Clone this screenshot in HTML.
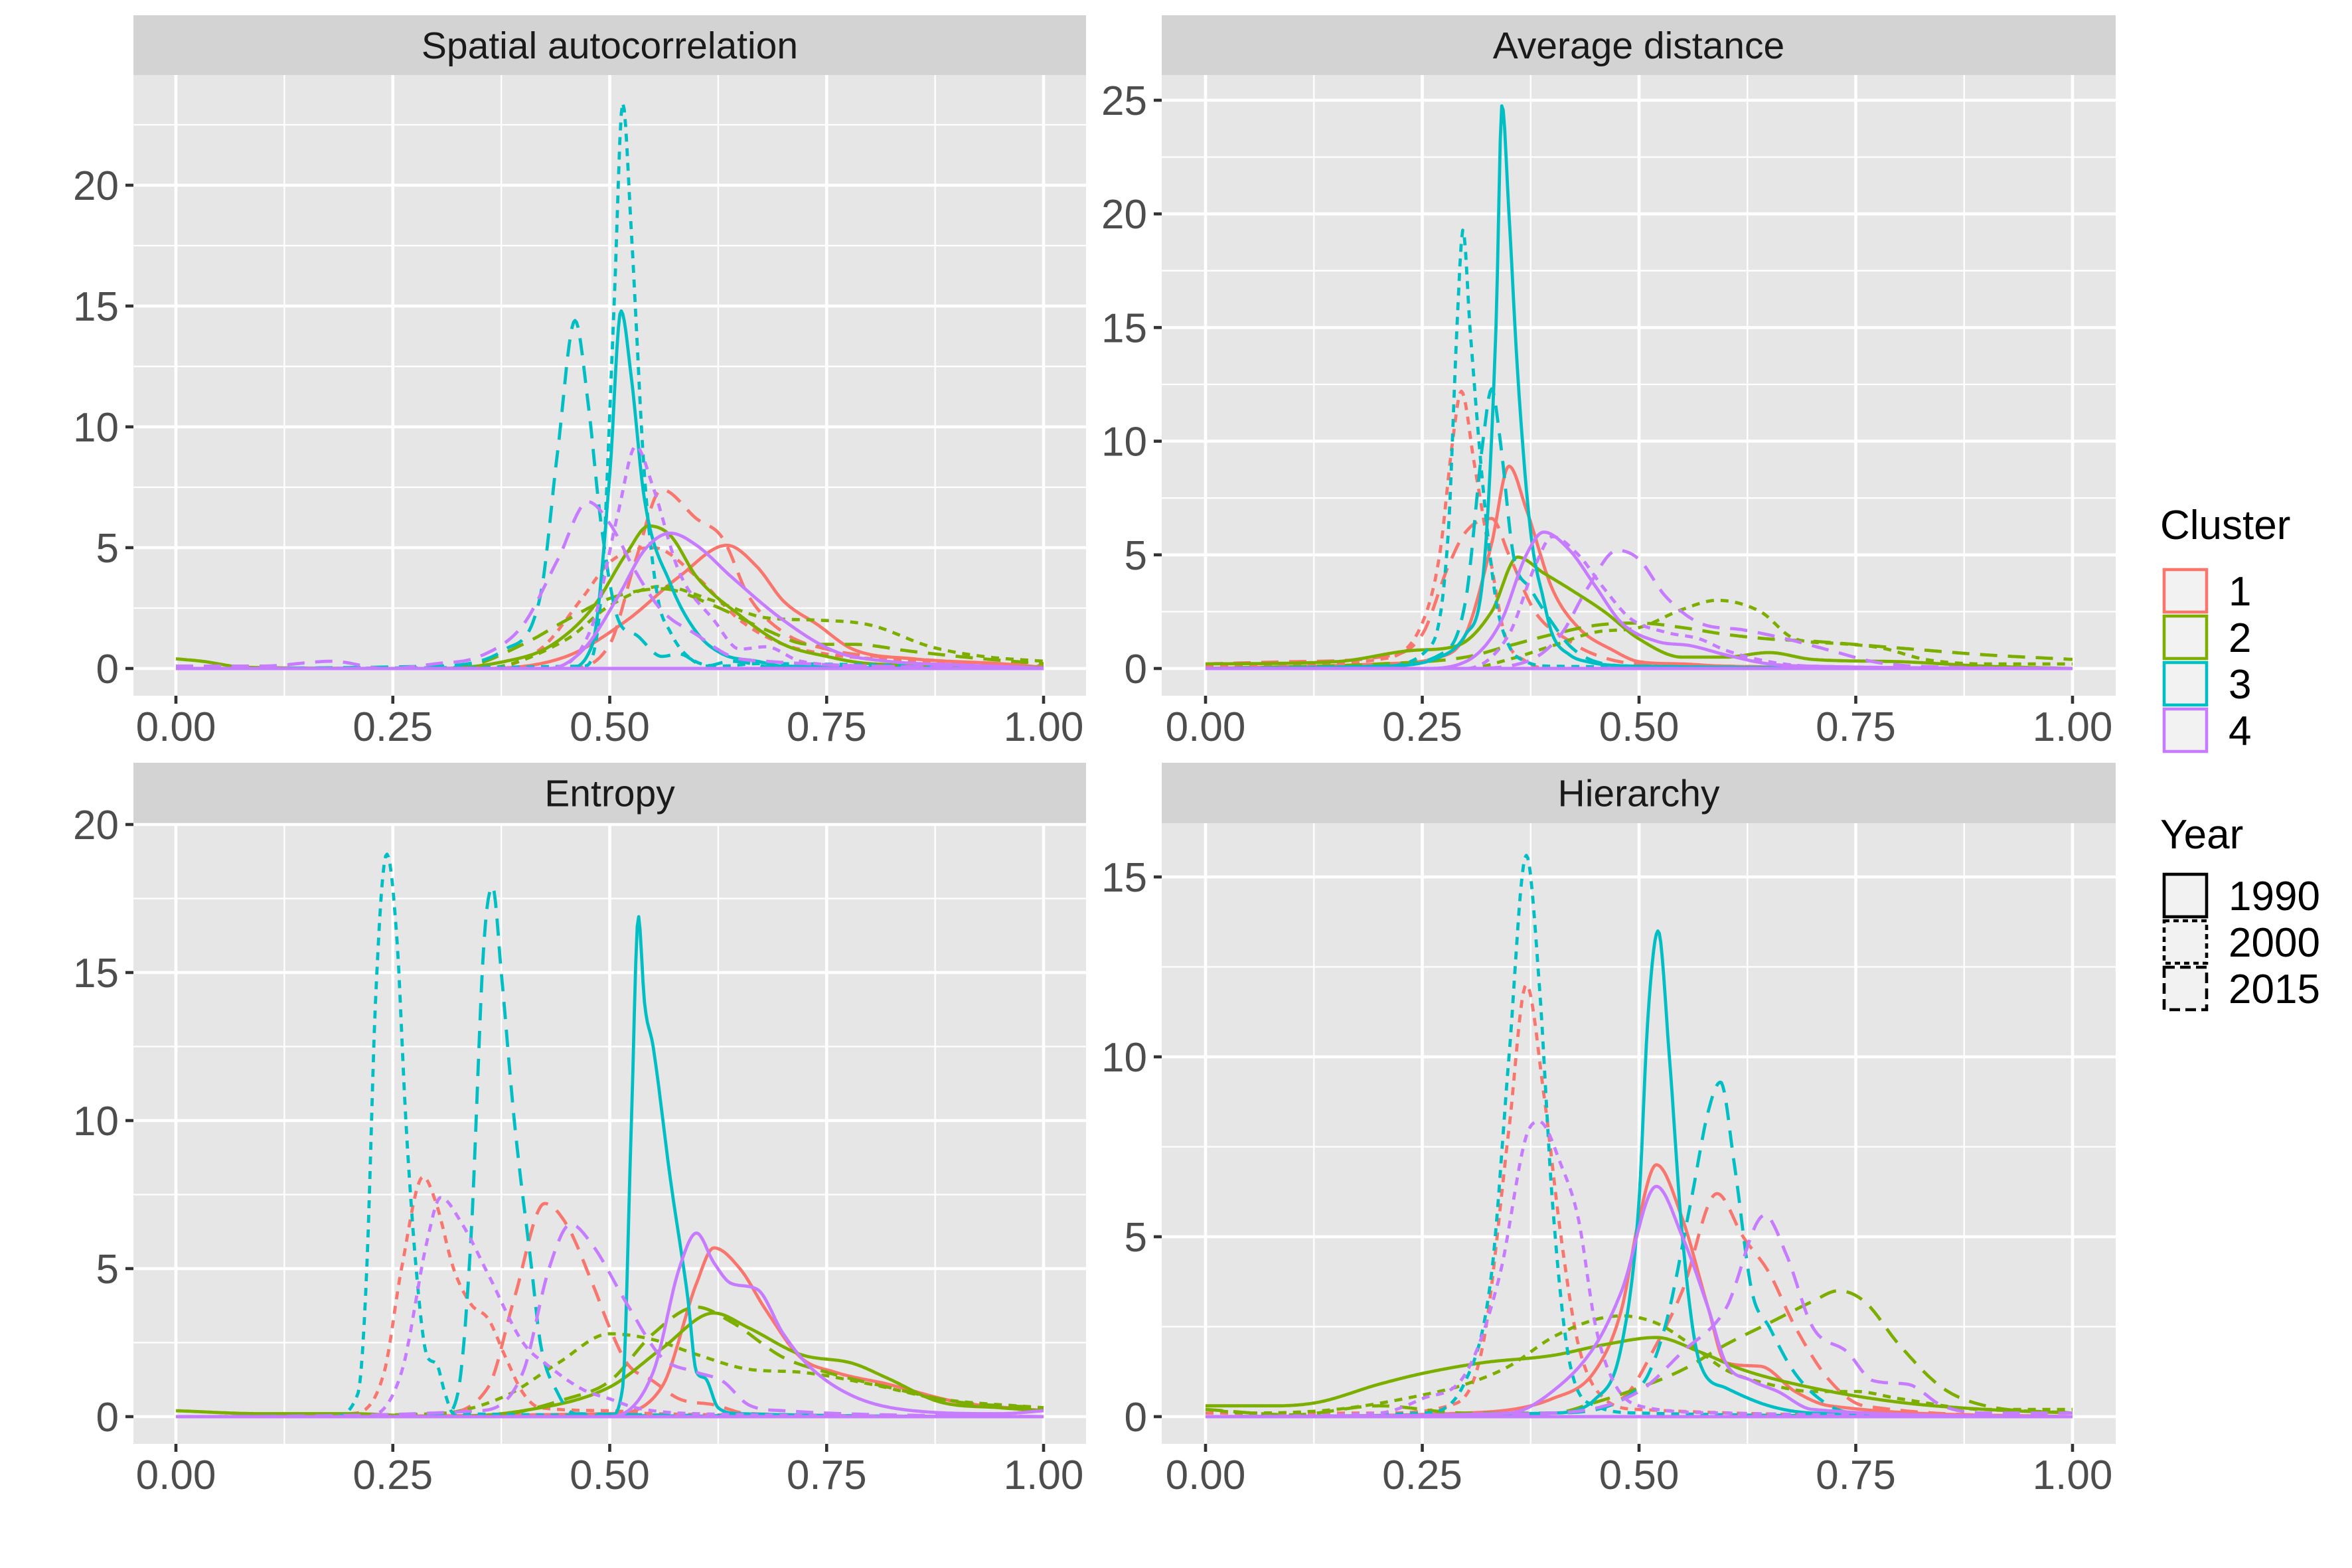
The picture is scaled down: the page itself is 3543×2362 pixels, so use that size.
<!DOCTYPE html>
<html><head><meta charset="utf-8"><style>
html,body{margin:0;padding:0;background:#fff;}
svg{display:block;font-family:"Liberation Sans",sans-serif;}
</style></head><body>
<svg id="chart" width="3543" height="2362" viewBox="0 0 3543 2362" xmlns="http://www.w3.org/2000/svg">
<g id="panels"></g>
<g id="legend">
  <text x="3254" y="812" font-size="62" fill="#000">Cluster</text>
  <text x="3254" y="1278" font-size="62" fill="#000">Year</text>
</g>
</svg>
<script>
// ---------- data (x value, density) ----------
const panelTitles = ["Spatial autocorrelation","Average distance","Entropy","Hierarchy"];
const clusters = ["1","2","3","4"];
const years = ["1990","2000","2015"];
const xTicks = [0,0.25,0.5,0.75,1];
const xTickLabels = ["0.00","0.25","0.50","0.75","1.00"];
const yTicksS = [0,5,10,15,20];
const yTicksA = [0,5,10,15,20,25];
const yTicksE = [0,5,10,15,20];
const yTicksH = [0,5,10,15];

const S_c1_1990=[[0,0],[0.35,0],[0.45,0.5],[0.52,2.0],[0.58,3.8],[0.635,5.1],[0.67,4.2],[0.7,2.8],[0.74,1.8],[0.78,0.8],[0.85,0.4],[0.95,0.2],[1,0.05]];
const S_c1_2000=[[0,0],[0.35,0],[0.42,0.8],[0.47,3.0],[0.5,4.4],[0.55,5.0],[0.6,3.8],[0.65,2.0],[0.7,1.0],[0.75,0.6],[0.85,0.3],[1,0.05]];
const S_c1_2015=[[0,0],[0.45,0],[0.5,1.0],[0.53,4.5],[0.56,7.4],[0.6,6.2],[0.63,5.4],[0.66,3.0],[0.7,1.5],[0.75,0.8],[0.85,0.4],[1,0.1]];
const S_c2_1990=[[0,0.4],[0.03,0.3],[0.08,0.05],[0.3,0],[0.38,0.3],[0.43,0.9],[0.48,2.5],[0.52,4.8],[0.545,5.9],[0.57,5.5],[0.6,3.8],[0.65,2.2],[0.7,1.0],[0.75,0.5],[0.8,0.2],[1,0.05]];
const S_c2_2000=[[0,0],[0.35,0],[0.45,1.2],[0.5,2.6],[0.56,3.4],[0.62,2.8],[0.68,2.1],[0.74,2.0],[0.8,1.8],[0.87,0.9],[0.93,0.5],[1,0.3]];
const S_c2_2015=[[0,0],[0.33,0.1],[0.4,1.0],[0.45,2.0],[0.5,2.9],[0.56,3.3],[0.62,2.6],[0.68,1.6],[0.73,1.0],[0.78,1.0],[0.85,0.7],[0.93,0.4],[1,0.2]];
const S_c3_1990=[[0,0],[0.45,0],[0.48,1],[0.5,8],[0.513,14.8],[0.525,12],[0.54,7],[0.57,3.5],[0.6,1.5],[0.63,0.6],[0.67,0.3],[0.7,0.1],[1,0]];
const S_c3_2000=[[0,0],[0.47,0.1],[0.49,3],[0.505,15],[0.515,23.4],[0.525,18],[0.54,8],[0.555,3],[0.57,1.5],[0.59,0.5],[0.63,0.1],[0.67,0.2],[1,0]];
const S_c3_2015=[[0,0],[0.3,0.1],[0.38,0.8],[0.42,3],[0.44,9],[0.46,14.4],[0.475,11],[0.49,6],[0.51,2],[0.53,1.4],[0.56,0.5],[0.58,0.6],[0.61,0.1],[0.64,0.3],[0.7,0],[1,0]];
const S_c4_1990=[[0,0],[0.43,0],[0.47,0.8],[0.51,3.0],[0.54,4.9],[0.57,5.6],[0.6,5.1],[0.64,3.8],[0.7,2.0],[0.76,0.7],[0.82,0.3],[0.9,0.15],[1,0.02]];
const S_c4_2000=[[0,0],[0.43,0],[0.48,1.8],[0.51,6.5],[0.53,9.2],[0.55,7.5],[0.58,4],[0.62,2],[0.65,0.8],[0.68,0.9],[0.72,0.3],[0.8,0.1],[1,0]];
const S_c4_2015=[[0,0.1],[0.1,0.1],[0.18,0.3],[0.24,0],[0.3,0.2],[0.35,0.5],[0.4,1.8],[0.44,4.5],[0.475,6.9],[0.5,6.0],[0.53,4.0],[0.56,2.4],[0.6,1.4],[0.64,0.5],[0.68,0.3],[1,0]];

const A_c1_1990=[[0,0],[0.2,0.2],[0.27,0.5],[0.3,1.5],[0.33,5.5],[0.35,8.9],[0.37,7],[0.4,3.5],[0.43,1.8],[0.47,0.8],[0.5,0.3],[0.55,0.2],[0.6,0.1],[1,0]];
const A_c1_2000=[[0,0.1],[0.1,0.2],[0.2,0.4],[0.25,2],[0.27,5],[0.285,10],[0.295,12.2],[0.31,9],[0.33,4.5],[0.345,1.5],[0.37,0.3],[0.4,0],[1,0]];
const A_c1_2015=[[0,0.2],[0.1,0.3],[0.2,0.5],[0.25,1.5],[0.28,4.5],[0.3,6.0],[0.33,6.6],[0.35,5],[0.38,2.5],[0.42,1.2],[0.45,0.6],[0.5,0.2],[1,0]];
const A_c2_1990=[[0,0.2],[0.15,0.3],[0.24,0.8],[0.29,1],[0.33,2.5],[0.36,4.9],[0.39,4.2],[0.42,3.5],[0.46,2.5],[0.5,1.3],[0.55,0.5],[0.6,0.5],[0.65,0.7],[0.7,0.4],[0.8,0.3],[0.9,0.1],[1,0]];
const A_c2_2000=[[0,0],[0.3,0],[0.35,0.4],[0.4,1],[0.45,1.6],[0.5,1.8],[0.55,2.6],[0.59,3.0],[0.64,2.5],[0.68,1.3],[0.73,1.1],[0.78,0.9],[0.83,0.4],[0.9,0.2],[1,0.2]];
const A_c2_2015=[[0,0],[0.2,0.2],[0.3,0.5],[0.35,1],[0.4,1.5],[0.45,1.9],[0.5,2.0],[0.55,1.8],[0.6,1.5],[0.65,1.3],[0.7,1.2],[0.8,0.9],[0.9,0.6],[1,0.4]];
const A_c3_1990=[[0,0],[0.2,0.1],[0.27,0.5],[0.3,1.5],[0.32,4],[0.335,15],[0.342,24.8],[0.35,20],[0.36,13],[0.375,6],[0.39,3],[0.4,1.5],[0.42,0.6],[0.44,0.3],[0.5,0.1],[1,0]];
const A_c3_2000=[[0,0],[0.2,0.1],[0.26,1.0],[0.28,6],[0.29,15],[0.297,19.3],[0.305,15],[0.32,8],[0.335,3],[0.35,1],[0.37,0.3],[0.4,0.1],[1,0]];
const A_c3_2015=[[0,0],[0.2,0.1],[0.27,0.6],[0.3,3],[0.32,10],[0.33,12.3],[0.34,10],[0.355,5],[0.375,3.5],[0.4,2],[0.42,1],[0.45,0.3],[0.5,0.1],[1,0]];
const A_c4_1990=[[0,0],[0.25,0],[0.3,0.3],[0.34,2],[0.37,5],[0.39,6.0],[0.42,5.2],[0.45,3.6],[0.48,2],[0.52,1.2],[0.56,1.0],[0.6,0.6],[0.65,0.2],[0.7,0.1],[1,0]];
const A_c4_2000=[[0,0],[0.3,0],[0.35,1.5],[0.38,4.5],[0.4,5.8],[0.43,5.0],[0.46,3.5],[0.49,2.2],[0.53,1.6],[0.57,1.3],[0.6,0.8],[0.65,0.3],[0.7,0.1],[1,0]];
const A_c4_2015=[[0,0],[0.3,0],[0.37,0.3],[0.41,1.5],[0.44,3.5],[0.475,5.2],[0.5,4.8],[0.53,3.2],[0.57,2],[0.62,1.7],[0.67,1.3],[0.72,0.8],[0.77,0.3],[0.82,0.1],[1,0]];

const E_c1_1990=[[0,0],[0.5,0.1],[0.56,1.0],[0.6,4.5],[0.62,5.7],[0.65,5.0],[0.68,3.6],[0.72,2.0],[0.76,1.5],[0.82,1.1],[0.9,0.5],[1,0.2]];
const E_c1_2000=[[0,0],[0.2,0.1],[0.24,1.5],[0.26,5],[0.285,8.1],[0.3,7.2],[0.32,5],[0.34,3.8],[0.36,3.3],[0.38,2],[0.4,0.8],[0.42,0.3],[0.5,0.2],[0.55,0.1],[1,0]];
const E_c1_2015=[[0,0],[0.3,0.1],[0.36,1],[0.39,4],[0.425,7.2],[0.45,6.5],[0.48,4.5],[0.5,3],[0.52,1.8],[0.55,1.2],[0.58,0.6],[0.62,0.4],[0.66,0.1],[1,0]];
const E_c2_1990=[[0,0.2],[0.1,0.1],[0.2,0.1],[0.3,0],[0.4,0.2],[0.5,1.0],[0.56,2.3],[0.62,3.5],[0.66,3.0],[0.72,2.1],[0.78,1.8],[0.82,1.3],[0.88,0.5],[0.95,0.3],[1,0.2]];
const E_c2_2000=[[0,0],[0.3,0.1],[0.38,0.7],[0.44,1.8],[0.5,2.8],[0.55,2.6],[0.6,2.1],[0.66,1.6],[0.72,1.5],[0.8,1.1],[0.88,0.6],[1,0.3]];
const E_c2_2015=[[0,0],[0.35,0],[0.45,0.6],[0.5,1.2],[0.55,2.8],[0.6,3.7],[0.64,3.2],[0.7,2.0],[0.75,1.5],[0.82,1.0],[0.9,0.5],[1,0.3]];
const E_c3_1990=[[0,0],[0.5,0],[0.515,1],[0.525,10],[0.533,16.9],[0.54,14],[0.55,12.5],[0.57,8],[0.59,4],[0.6,1.5],[0.61,1.3],[0.625,0.3],[0.65,0.1],[1,0]];
const E_c3_2000=[[0,0],[0.18,0],[0.21,0.8],[0.22,5],[0.23,14],[0.243,19],[0.255,16],[0.265,10],[0.28,4],[0.29,2],[0.3,1.8],[0.31,0.8],[0.32,0.1],[1,0]];
const E_c3_2015=[[0,0],[0.31,0.1],[0.325,0.8],[0.34,6],[0.355,16],[0.365,17.9],[0.375,15],[0.39,10],[0.41,5],[0.42,2.5],[0.44,0.8],[0.46,0.1],[1,0]];
const E_c4_1990=[[0,0],[0.5,0],[0.55,1.5],[0.58,5],[0.6,6.2],[0.62,5.2],[0.64,4.5],[0.67,4.3],[0.7,2.8],[0.73,1.7],[0.78,0.7],[0.85,0.2],[0.95,0.1],[1,0.2]];
const E_c4_2000=[[0,0],[0.22,0],[0.26,1.5],[0.29,6],[0.305,7.4],[0.33,6.5],[0.36,4.8],[0.4,2.5],[0.43,1.7],[0.47,0.9],[0.5,0.6],[0.53,0.3],[0.6,0.1],[1,0]];
const E_c4_2015=[[0,0],[0.35,0.2],[0.4,1.5],[0.43,5],[0.455,6.5],[0.48,5.8],[0.52,3.8],[0.56,2],[0.6,1.5],[0.63,1.2],[0.66,0.4],[0.7,0.2],[1,0]];

const H_c1_1990=[[0,0],[0.3,0.1],[0.4,0.5],[0.45,1.3],[0.48,3],[0.5,5.5],[0.52,7.0],[0.55,5.5],[0.58,3],[0.6,1.5],[0.64,1.4],[0.68,0.7],[0.72,0.3],[1,0]];
const H_c1_2000=[[0,0.1],[0.2,0.1],[0.28,0.3],[0.32,2],[0.35,8],[0.37,12],[0.39,9],[0.41,5],[0.43,2],[0.46,0.5],[0.5,0.2],[1,0]];
const H_c1_2015=[[0,0],[0.4,0.1],[0.48,0.5],[0.52,2],[0.55,3.5],[0.59,6.2],[0.62,5.0],[0.65,4.0],[0.68,2.5],[0.72,1.0],[0.76,0.3],[1,0]];
const H_c2_1990=[[0,0.3],[0.08,0.3],[0.13,0.4],[0.2,0.9],[0.25,1.2],[0.32,1.5],[0.4,1.7],[0.46,2.0],[0.52,2.2],[0.57,1.8],[0.62,1.3],[0.7,0.8],[0.8,0.4],[0.9,0.2],[1,0.1]];
const H_c2_2000=[[0,0.2],[0.05,0.1],[0.15,0.2],[0.25,0.6],[0.3,0.9],[0.35,1.4],[0.4,2.2],[0.45,2.7],[0.48,2.8],[0.52,2.6],[0.56,2.0],[0.6,1.3],[0.65,0.9],[0.7,0.7],[0.75,0.7],[0.8,0.5],[0.9,0.2],[1,0.2]];
const H_c2_2015=[[0,0.2],[0.1,0.05],[0.2,0.3],[0.3,0.1],[0.4,0.1],[0.45,0.4],[0.5,0.8],[0.55,1.3],[0.6,2.0],[0.65,2.6],[0.7,3.2],[0.73,3.5],[0.76,3.2],[0.8,2.0],[0.85,0.8],[0.9,0.3],[1,0.1]];
const H_c3_1990=[[0,0],[0.4,0.1],[0.45,0.5],[0.48,2],[0.5,6],[0.51,11],[0.522,13.5],[0.535,10],[0.55,5],[0.57,1.5],[0.6,0.8],[0.65,0.3],[0.7,0.1],[1,0]];
const H_c3_2000=[[0,0],[0.25,0.1],[0.3,1.0],[0.33,4],[0.35,10],[0.37,15.6],[0.385,12],[0.4,6],[0.42,1.5],[0.45,0.3],[0.5,0.1],[1,0]];
const H_c3_2015=[[0,0],[0.4,0.1],[0.5,0.8],[0.53,2.5],[0.56,6],[0.58,8.5],[0.594,9.3],[0.61,7],[0.63,3.5],[0.65,2.5],[0.68,1.2],[0.72,0.3],[0.75,0.1],[1,0]];
const H_c4_1990=[[0,0],[0.35,0.1],[0.4,0.7],[0.45,2],[0.48,3.5],[0.52,6.4],[0.55,5],[0.58,3],[0.6,1.5],[0.63,1.0],[0.66,0.7],[0.7,0.2],[1,0]];
const H_c4_2000=[[0,0],[0.2,0.1],[0.25,0.5],[0.3,1.2],[0.34,4],[0.37,7.8],[0.385,8.2],[0.41,7],[0.43,5.5],[0.45,2.5],[0.47,1],[0.5,0.3],[0.6,0.1],[1,0]];
const H_c4_2015=[[0,0],[0.4,0.1],[0.5,0.7],[0.55,1.8],[0.6,3.0],[0.645,5.6],[0.67,4.5],[0.7,2.5],[0.74,1.8],[0.77,1.0],[0.81,0.9],[0.85,0.3],[0.9,0.1],[1,0.1]];

// ---------- layout / style ----------
const colors = ["#F8766D","#7CAE00","#00BFC4","#C77CFF"];
const dashes = ["none","12 10","26 16"];
const panels = [
  {key:"spatial", left:201,right:1636,stripTop:23,top:113,bottom:1048,x0:265,x1:1572,y0:1007,ppu:36.4,ticks:yTicksS,
   curves:[[S_c1_1990,S_c1_2000,S_c1_2015],[S_c2_1990,S_c2_2000,S_c2_2015],[S_c3_1990,S_c3_2000,S_c3_2015],[S_c4_1990,S_c4_2000,S_c4_2015]]},
  {key:"average-distance", left:1750,right:3187,stripTop:23,top:113,bottom:1048,x0:1816,x1:3122,y0:1007,ppu:34.24,ticks:yTicksA,
   curves:[[A_c1_1990,A_c1_2000,A_c1_2015],[A_c2_1990,A_c2_2000,A_c2_2015],[A_c3_1990,A_c3_2000,A_c3_2015],[A_c4_1990,A_c4_2000,A_c4_2015]]},
  {key:"entropy", left:201,right:1636,stripTop:1149,top:1240,bottom:2175,x0:265,x1:1572,y0:2134,ppu:44.6,ticks:yTicksE,
   curves:[[E_c1_1990,E_c1_2000,E_c1_2015],[E_c2_1990,E_c2_2000,E_c2_2015],[E_c3_1990,E_c3_2000,E_c3_2015],[E_c4_1990,E_c4_2000,E_c4_2015]]},
  {key:"hierarchy", left:1750,right:3187,stripTop:1149,top:1240,bottom:2175,x0:1816,x1:3122,y0:2134,ppu:54.2,ticks:yTicksH,
   curves:[[H_c1_1990,H_c1_2000,H_c1_2015],[H_c2_1990,H_c2_2000,H_c2_2015],[H_c3_1990,H_c3_2000,H_c3_2015],[H_c4_1990,H_c4_2000,H_c4_2015]]}
];
const NS="http://www.w3.org/2000/svg";
function mk(tag, attrs, parent){const e=document.createElementNS(NS,tag);for(const k in attrs)e.setAttribute(k,attrs[k]);parent.appendChild(e);return e;}

function monotone(pts){
  const n=pts.length, xs=pts.map(p=>p[0]), ys=pts.map(p=>p[1]);
  const d=[],m=[];
  for(let i=0;i<n-1;i++)d.push((ys[i+1]-ys[i])/(xs[i+1]-xs[i]));
  m[0]=d[0];m[n-1]=d[n-2];
  for(let i=1;i<n-1;i++){ if(d[i-1]*d[i]<=0)m[i]=0; else{ m[i]=(d[i-1]+d[i])/2; } }
  for(let i=0;i<n-1;i++){ if(d[i]===0){m[i]=0;m[i+1]=0;continue;} const a=m[i]/d[i],b=m[i+1]/d[i],s=a*a+b*b; if(s>9){const t=3/Math.sqrt(s);m[i]=t*a*d[i];m[i+1]=t*b*d[i];} }
  return function(x){
    let i=0; while(i<n-2 && x>xs[i+1]) i++;
    const h=xs[i+1]-xs[i], t=(x-xs[i])/h, t2=t*t, t3=t2*t;
    return (2*t3-3*t2+1)*ys[i]+(t3-2*t2+t)*h*m[i]+(-2*t3+3*t2)*ys[i+1]+(t3-t2)*h*m[i+1];
  };
}

const root=document.getElementById('panels');
panels.forEach((p,pi)=>{
  const xs=v=>p.x0+v*(p.x1-p.x0);
  const ys=v=>p.y0-v*p.ppu;
  const g=mk('g',{},root);
  
  
  const bg=mk('rect',{x:p.left,y:p.top,width:p.right-p.left,height:p.bottom-p.top,fill:"#E6E6E6"},g);
  
  
  const strip=mk('rect',{x:p.left,y:p.stripTop,width:p.right-p.left,height:p.top-p.stripTop,fill:"#D3D3D3"},g);
  
  
  const st=mk('text',{x:(p.left+p.right)/2,y:(p.stripTop+p.top)/2+20,"font-size":57,fill:"#1A1A1A","text-anchor":"middle"},g);
  st.textContent=panelTitles[pi];
  
  
  const grid=mk('g',{},g);
  
  
  const step=p.ticks[1]-p.ticks[0];
  for(let k=0;k<p.ticks.length+1;k++){
    const v=p.ticks[0]+step*(k+0.5);
    const yy=ys(v); if(yy>p.top) mk('line',{x1:p.left,x2:p.right,y1:yy,y2:yy,stroke:"#fff","stroke-width":2.3},grid);
  }
  for(let k=0;k<xTicks.length-1;k++){
    const xx=xs((xTicks[k]+xTicks[k+1])/2);
    mk('line',{x1:xx,x2:xx,y1:p.top,y2:p.bottom,stroke:"#fff","stroke-width":2.3},grid);
  }
  p.ticks.forEach(v=>{const yy=ys(v);mk('line',{x1:p.left,x2:p.right,y1:yy,y2:yy,stroke:"#fff","stroke-width":4.6},grid);});
  xTicks.forEach(v=>{const xx=xs(v);mk('line',{x1:xx,x2:xx,y1:p.top,y2:p.bottom,stroke:"#fff","stroke-width":4.6},grid);});
  const ax=mk('g',{},g);
  
  
  p.ticks.forEach(v=>{
    const yy=ys(v);
    mk('line',{x1:p.left-12,x2:p.left,y1:yy,y2:yy,stroke:"#333","stroke-width":4.6},ax);
    const t=mk('text',{x:p.left-22,y:yy+22,"font-size":62,fill:"#4D4D4D","text-anchor":"end"},ax);
    t.textContent=String(v);
    
    
  });
  const axx=mk('g',{},g);
  
  
  xTicks.forEach((v,i)=>{
    const xx=xs(v);
    mk('line',{x1:xx,x2:xx,y1:p.bottom,y2:p.bottom+12,stroke:"#333","stroke-width":4.6},axx);
    const t=mk('text',{x:xx,y:p.bottom+68,"font-size":62,fill:"#4D4D4D","text-anchor":"middle"},axx);
    t.textContent=xTickLabels[i];
    
    
  });
  const cg=mk('g',{},g);
  
  
  p.curves.forEach((byYear,ci)=>{
    byYear.forEach((pts,yi)=>{
      const f=monotone(pts);
      let d="";
      const N=600;
      for(let k=0;k<=N;k++){const xv=k/N;const yv=Math.max(0,f(xv));d+=(k?"L":"M")+xs(xv).toFixed(1)+","+ys(yv).toFixed(1);}
      const path=mk('path',{d:d,fill:"none",stroke:colors[ci],"stroke-width":4.8,"stroke-dasharray":dashes[yi],"stroke-linejoin":"round"},cg);
      
      
    });
  });
  const base=mk('line',{x1:xs(0),x2:xs(1),y1:ys(0),y2:ys(0),stroke:colors[3],"stroke-width":5},cg);
  
  
});

const lg=document.getElementById('legend');
clusters.forEach((c,i)=>{
  const y=855+i*70;
  const r=mk('rect',{x:3260,y:y+3,width:64,height:64,fill:"#F2F2F2",stroke:colors[i],"stroke-width":4.6},lg);
  
  
  const t=mk('text',{x:3357,y:y+57,"font-size":62,fill:"#000"},lg);
  t.textContent=c;
  
  
});
years.forEach((yv,i)=>{
  const y=1314+i*70;
  const r=mk('rect',{x:3260,y:y+3,width:64,height:64,fill:"#F2F2F2",stroke:"#000","stroke-width":4.6,"stroke-dasharray":dashes[i]==="none"?"none":(i===1?"8 6":"16 8")},lg);
  
  
  const t=mk('text',{x:3357,y:y+57,"font-size":62,fill:"#000"},lg);
  t.textContent=yv;
  
  
});
</script>
</body></html>
